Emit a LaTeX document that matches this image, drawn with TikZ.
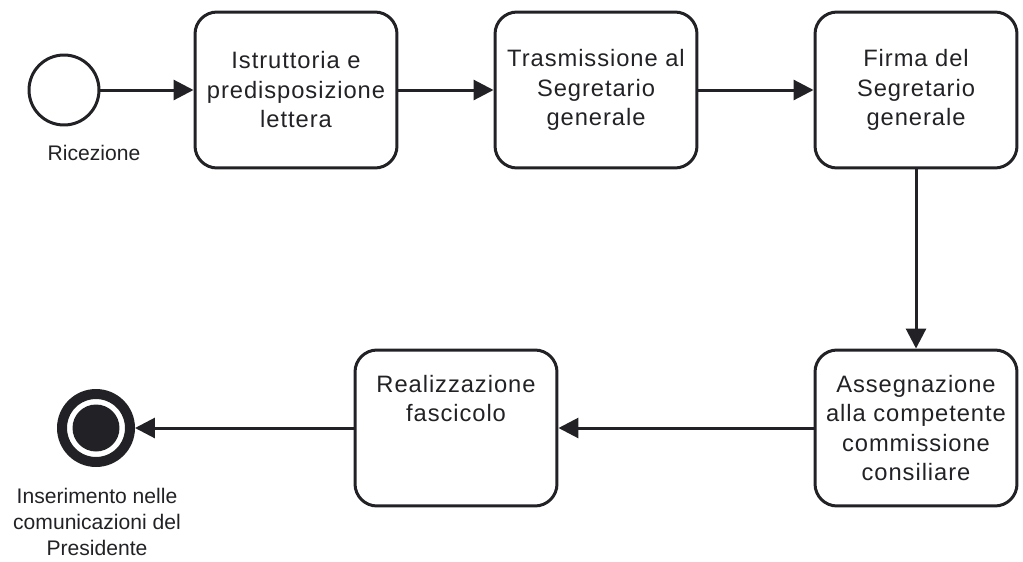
\documentclass[tikz,border=0pt]{standalone}
\usepackage{fontspec}
\setmainfont{Liberation Sans}
\usetikzlibrary{arrows.meta}
\definecolor{ink}{RGB}{34,34,38}
\begin{document}
\begin{tikzpicture}[x=0.02cm, y=-0.02cm,
  task/.style={draw=ink, line width=0.06cm, rounded corners=0.44cm, minimum width=4.04cm, minimum height=3.12cm,
    align=center, text=ink, font=\fontsize{13.5}{16.8}\selectfont\addfontfeature{LetterSpace=4}, inner sep=0pt},
  flow/.style={draw=ink, line width=0.06cm, -{Triangle[length=0.4cm,width=0.4cm]}},
  lbl/.style={align=center, text=ink, font=\fontsize{12}{15}\selectfont}]

  \useasboundingbox (0,0) rectangle (1023,561);

	%start / end events
  \node[circle, draw=ink, line width=0.06cm, minimum size=1.4cm, outer sep=auto] (start) at (64,90) {};
  \node[lbl] (startlbl) at (94,153) {Ricezione};

  \node[circle, draw=ink, line width=0.2cm, minimum size=1.36cm, outer sep=auto] (end) at (96,428) {};
  \node[circle, fill=ink, minimum size=0.94cm, inner sep=0pt] (endfill) at (end) {};
  \node[lbl] (endlbl) at (97,522) {Inserimento nelle\\comunicazioni del\\Presidente};

	%tasks
    \foreach \x/\y/\name/\txt in {296/90/t1/{Istruttoria e\\predisposizione\\lettera},
                                  596/90/t2/{Trasmissione al\\Segretario\\generale},
                                  916/90/t3/{Firma del\\Segretario\\generale},
                                  916/428/t4/{Assegnazione\\alla competente\\commissione\\consiliare},
                                  456/428/t5/{Realizzazione\\fascicolo\\~\\~}}{
         \node[task] (\name) at (\x,\y) {\txt};
    }

	%sequence flows
  \draw[flow] (start) -- (t1);
  \draw[flow] (t1) -- (t2);
  \draw[flow] (t2) -- (t3);
  \draw[flow] (t3) -- (t4);
  \draw[flow] (t4) -- (t5);
  \draw[flow] (t5) -- (end);

\end{tikzpicture}
\end{document}
